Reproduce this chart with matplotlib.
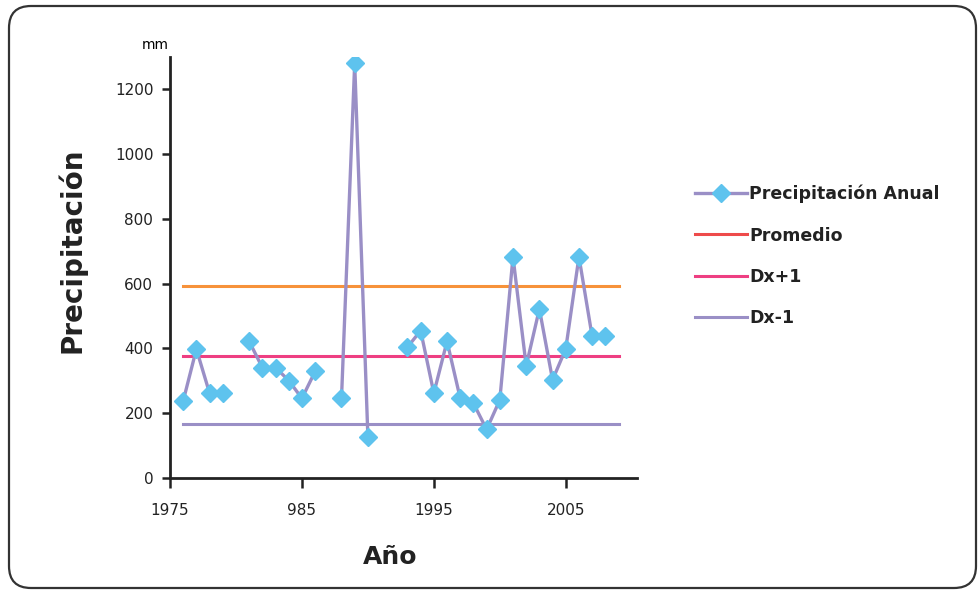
import matplotlib
matplotlib.use("Agg")
import matplotlib.pyplot as plt
import numpy as np
from matplotlib.patches import FancyBboxPatch

# Annual precipitation (mm); NaN = year without data
years = list(range(1976, 2009))
precip = [238, 398, 262, 262, np.nan, 422, 341, 341, 301, 246,
          329, np.nan, 246, 1280, 128, np.nan, np.nan, 404, 455, 262,
          422, 246, 231, 150, 241, 683, 346, 522, 303, 399,
          683, 437, 437]

# Reference lines
promedio = 592
dx_mas = 378
dx_menos = 167
line_span = [1976, 2009]

xticks = [1975, 1985, 1995, 2005]
xtick_labels = ["1975", "985", "1995", "2005"]
yticks = [0, 200, 400, 600, 800, 1000, 1200]

fig = plt.figure(figsize=(9.79, 5.92), dpi=100)
ax = fig.add_axes([170 / 979, 1 - 478 / 592, 467 / 979, 421 / 592])

ax.plot(years, precip, color="#9a8fc6", lw=2.4, marker="D", ms=9,
        mfc="#5ec3ee", mec="#5ec3ee", label="Precipitación Anual", zorder=4)
ax.plot(line_span, [promedio] * 2, color="#f7923a", lw=2.2, label="Promedio")
ax.plot(line_span, [dx_mas] * 2, color="#ee3f82", lw=2.2, label="Dx+1")
ax.plot(line_span, [dx_menos] * 2, color="#9a8fc6", lw=2.2, label="Dx-1")

ax.set_xlim(1975, 2010.4)
ax.set_ylim(0, 1300)
ax.set_xticks(xticks)
ax.set_xticklabels(xtick_labels)
ax.set_yticks(yticks)

for s in ["top", "right"]:
    ax.spines[s].set_visible(False)
for s in ["left", "bottom"]:
    ax.spines[s].set_linewidth(2)
    ax.spines[s].set_color("#222222")
ax.tick_params(axis="both", direction="out", width=1.8, color="#222222",
               labelsize=11, labelcolor="#222222")
ax.tick_params(axis="x", length=7, pad=11)
ax.tick_params(axis="y", length=6, pad=6)

ax.set_ylabel("Precipitación", fontsize=20, fontweight="bold", color="#222222", va="center")
ax.yaxis.set_label_coords(-0.21, 0.54)
ax.set_xlabel("Año", fontsize=18, fontweight="bold", color="#222222", va="center")
ax.xaxis.set_label_coords(0.471, -0.188)
fig.text(155 / 979, 1 - 45 / 592, "mm", fontsize=10, ha="center", va="center")

leg = fig.legend(loc="center left", bbox_to_anchor=(679 / 979, 1 - 256 / 592),
                 frameon=False, handlelength=3, handletextpad=0.15,
                 labelspacing=1.35, prop={"weight": "bold", "size": 12.5})
leg.get_lines()[1].set_color("#ee4b4b")
for t in leg.get_texts():
    t.set_color("#222222")

# rounded frame around the whole figure
frame = FancyBboxPatch((0.09, 0.04), 9.67, 5.82, boxstyle="round,pad=0,rounding_size=0.22",
                       transform=fig.dpi_scale_trans, fill=False, ec="#333333", lw=1.6)
fig.patches.append(frame)

fig.savefig("out.png", dpi=100)
